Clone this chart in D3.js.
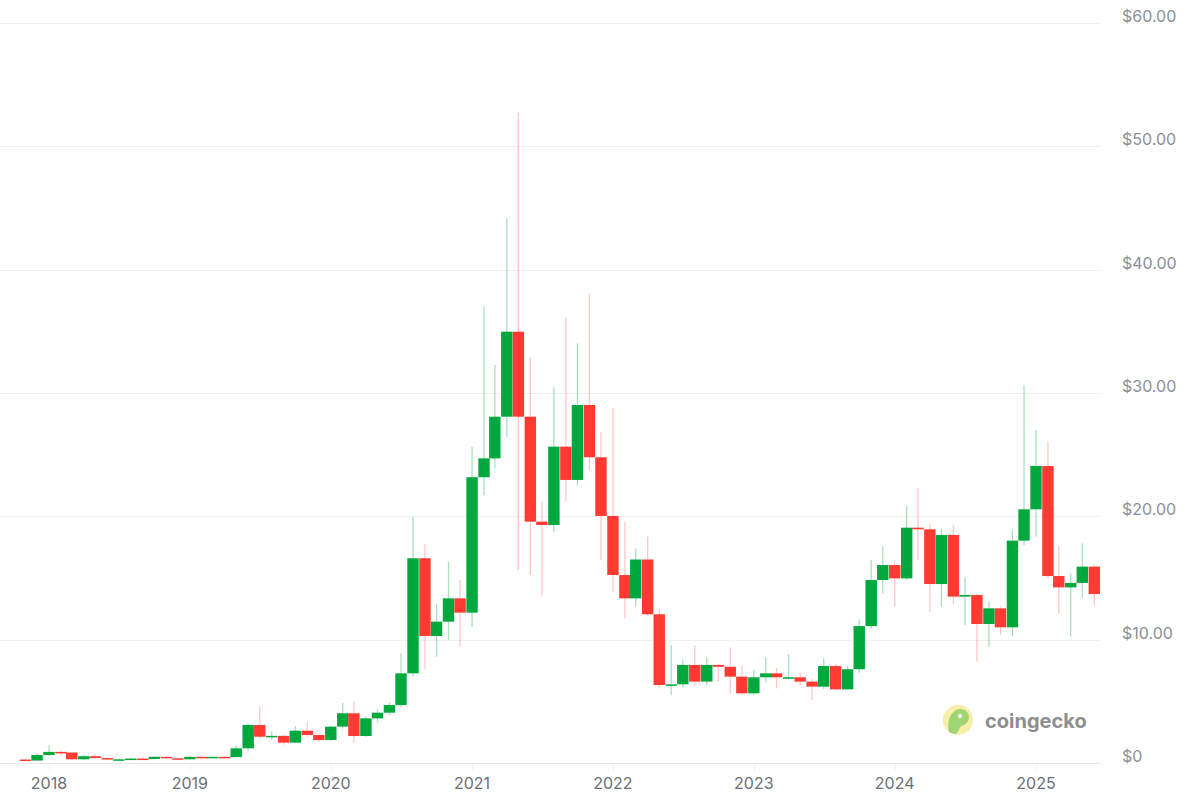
<!DOCTYPE html>
<html><head><meta charset="utf-8">
<script src="https://cdn.jsdelivr.net/npm/d3@7"></script>
<style>html,body{margin:0;padding:0;background:#fff;} svg{display:block;}</style>
</head><body><svg id="chart" width="1200" height="798"></svg>
<script>
const months = ["2017-11","2017-12",
 "2018-01","2018-02","2018-03","2018-04","2018-05","2018-06","2018-07","2018-08","2018-09","2018-10","2018-11","2018-12",
 "2019-01","2019-02","2019-03","2019-04","2019-05","2019-06","2019-07","2019-08","2019-09","2019-10","2019-11","2019-12",
 "2020-01","2020-02","2020-03","2020-04","2020-05","2020-06","2020-07","2020-08","2020-09","2020-10","2020-11","2020-12",
 "2021-01","2021-02","2021-03","2021-04","2021-05","2021-06","2021-07","2021-08","2021-09","2021-10","2021-11","2021-12",
 "2022-01","2022-02","2022-03","2022-04","2022-05","2022-06","2022-07","2022-08","2022-09","2022-10","2022-11","2022-12",
 "2023-01","2023-02","2023-03","2023-04","2023-05","2023-06","2023-07","2023-08","2023-09","2023-10","2023-11","2023-12",
 "2024-01","2024-02","2024-03","2024-04","2024-05","2024-06","2024-07","2024-08","2024-09","2024-10","2024-11","2024-12",
 "2025-01","2025-02","2025-03","2025-04","2025-05","2025-06"];
const open = [0.28,0.20,
 0.65,0.90,0.85,0.30,0.55,0.40,0.28,0.30,0.36,0.33,0.50,0.38,
 0.30,0.50,0.42,0.50,0.48,1.19,3.08,2.13,2.20,1.65,2.62,2.27,
 1.86,2.95,4.03,2.19,3.62,4.08,4.70,7.27,16.6,10.3,11.46,13.35,
 12.19,23.17,24.7,28.08,34.97,28.08,19.57,19.3,25.65,22.95,29.03,24.79,
 20.03,15.24,13.35,16.5,12.06,6.32,6.38,7.95,6.6,7.95,7.8,7.0,
 5.65,6.95,7.27,6.95,6.95,6.6,6.19,7.86,5.97,7.6,11.1,14.84,
 16.05,14.97,19.08,18.95,14.51,18.49,13.49,13.62,11.27,12.54,11.0,18.03,
 20.57,24.08,15.16,14.24,14.6,15.92];
const high = [0.35,0.80,
 1.45,1.00,0.90,0.62,0.70,0.45,0.35,0.40,0.50,0.55,0.55,0.40,
 0.55,0.60,0.55,0.55,1.46,3.20,4.57,2.60,2.30,3.00,3.35,2.40,
 3.00,4.89,4.95,3.80,4.40,4.90,8.90,19.97,17.76,12.9,16.3,14.84,
 25.65,37.0,32.3,44.16,52.73,32.9,21.19,30.46,36.06,34.03,38.08,26.86,
 28.76,19.57,17.4,18.35,12.54,9.57,8.4,9.57,8.62,8.0,9.38,7.9,
 7.54,8.57,7.7,8.84,7.3,6.8,8.49,8.0,7.9,11.65,16.46,17.6,
 16.3,20.84,22.27,19.4,19.0,19.3,15.1,13.7,13.1,12.7,18.9,30.65,
 27.0,26.05,17.6,15.38,17.81,16.1];
const low = [0.15,0.18,
 0.55,0.60,0.25,0.28,0.38,0.25,0.22,0.22,0.30,0.30,0.30,0.22,
 0.28,0.40,0.40,0.42,0.45,1.00,2.00,1.90,1.50,1.60,2.10,1.70,
 1.80,2.80,1.65,2.10,3.30,3.90,4.50,7.00,7.60,8.6,9.97,9.43,
 11.05,21.7,23.9,26.46,15.65,15.24,13.49,18.76,21.19,22.5,23.76,16.46,
 13.9,11.73,12.67,11.9,6.05,5.5,6.1,6.3,6.3,6.6,5.65,5.5,
 5.5,6.51,6.05,6.8,6.3,5.1,6.0,5.9,5.9,7.3,10.84,13.76,
 12.67,14.8,16.46,12.27,12.67,12.9,11.19,8.2,9.43,10.38,10.24,17.68,
 18.35,15.0,12.14,10.24,13.35,12.8];
const close = [0.20,0.65,
 0.90,0.82,0.30,0.55,0.40,0.28,0.30,0.36,0.33,0.50,0.38,0.30,
 0.50,0.42,0.50,0.48,1.19,3.08,2.13,2.20,1.65,2.62,2.27,1.86,
 2.95,4.03,2.19,3.62,4.08,4.70,7.27,16.6,10.3,11.46,13.35,12.19,
 23.17,24.7,28.08,34.97,28.08,19.57,19.3,25.65,22.95,29.03,24.79,20.03,
 15.24,13.35,16.5,12.06,6.32,6.38,7.95,6.6,7.95,7.8,7.0,5.65,
 6.95,7.27,6.95,6.95,6.6,6.19,7.86,5.97,7.6,11.1,14.84,16.05,
 14.97,19.08,18.95,14.51,18.49,13.49,13.62,11.27,12.54,11.0,18.03,20.57,
 24.08,15.16,14.24,14.6,15.92,13.7];
const yTicks = [0,10,20,30,40,50,60];
const yTickLabels = ["$0","$10.00","$20.00","$30.00","$40.00","$50.00","$60.00"];
const xTickYears = [2018,2019,2020,2021,2022,2023,2024,2025];

const GREEN = "#00a83e", RED = "#ff3a33";
const svg = d3.select("#chart");
const parse = d3.utcParse("%Y-%m");
const x = d3.scaleUtc()
  .domain([new Date(Date.UTC(2018,0,1)), new Date(Date.UTC(2025,0,1))])
  .range([49, 1036]);
const y = d3.scaleLinear().domain([0, 60]).range([763, 23]);
const FONT = "Inter, 'Open Sans', sans-serif";

// gridlines
svg.append("g").selectAll("line").data(yTicks).join("line")
  .attr("x1", 0).attr("x2", 1100)
  .attr("y1", d => Math.round(y(d)) + 0.5).attr("y2", d => Math.round(y(d)) + 0.5)
  .attr("stroke", d => d === 0 ? "#e6e6e6" : "#f1f1f1").attr("stroke-width", 1);

// y labels
svg.append("g").selectAll("text").data(yTicks).join("text")
  .attr("x", 1122).attr("y", d => y(d) - 1)
  .attr("font-family", FONT).attr("font-size", 16).attr("fill", "#8a8f98")
  .text((d, i) => yTickLabels[i]);

// x ticks & labels
const xt = svg.append("g");
xt.selectAll("line").data(xTickYears).join("line")
  .attr("x1", d => Math.round(x(new Date(Date.UTC(d,0,1)))) + 0.5)
  .attr("x2", d => Math.round(x(new Date(Date.UTC(d,0,1)))) + 0.5)
  .attr("y1", 763).attr("y2", 770).attr("stroke", "#eeeeee");
xt.selectAll("text").data(xTickYears).join("text")
  .attr("x", d => x(new Date(Date.UTC(d,0,1)))).attr("y", 789)
  .attr("text-anchor", "middle")
  .attr("font-family", FONT).attr("font-size", 16).attr("fill", "#6b6f76")
  .text(d => d);

// candles
const data = months.map((m, i) => ({ date: parse(m), o: open[i], h: high[i], l: low[i], c: close[i] }));
const bw = 11.4;
const g = svg.append("g");
g.selectAll("line.wick").data(data).join("line").attr("class", "wick")
  .attr("x1", d => x(d.date)).attr("x2", d => x(d.date))
  .attr("y1", d => y(d.h)).attr("y2", d => y(d.l))
  .attr("stroke", d => d.c >= d.o ? GREEN : RED)
  .attr("stroke-opacity", d => d.c >= d.o ? 0.35 : 0.28)
  .attr("stroke-width", 1.3);
g.selectAll("rect.body").data(data).join("rect").attr("class", "body")
  .attr("x", d => x(d.date) - bw / 2).attr("width", bw)
  .attr("y", d => y(Math.max(d.o, d.c)))
  .attr("height", d => Math.max(1.5, Math.abs(y(d.o) - y(d.c))))
  .attr("fill", d => d.c >= d.o ? GREEN : RED);

// watermark logo
const logo = svg.append("g").attr("transform", "translate(958,720)").attr("opacity", 0.85);
logo.append("circle").attr("r", 15).attr("fill", "#f6ec9c");
logo.append("path")
  .attr("d", "M-9,12 C-11,4 -9,-6 -2,-10 C4,-13 11,-9 11,-3 C11,2 7,5 3,6 C1,9 0,12 -2,14 C-5,14 -7,13 -9,12 Z")
  .attr("fill", "#8fcf5a");
logo.append("circle").attr("cx", 2).attr("cy", -4).attr("r", 2.2).attr("fill", "#f4f8ea");
svg.append("text").attr("x", 985).attr("y", 728)
  .attr("font-family", FONT).attr("font-size", 20).attr("font-weight", 700)
  .attr("fill", "#8e8e8e").text("coingecko");
</script></body></html>
